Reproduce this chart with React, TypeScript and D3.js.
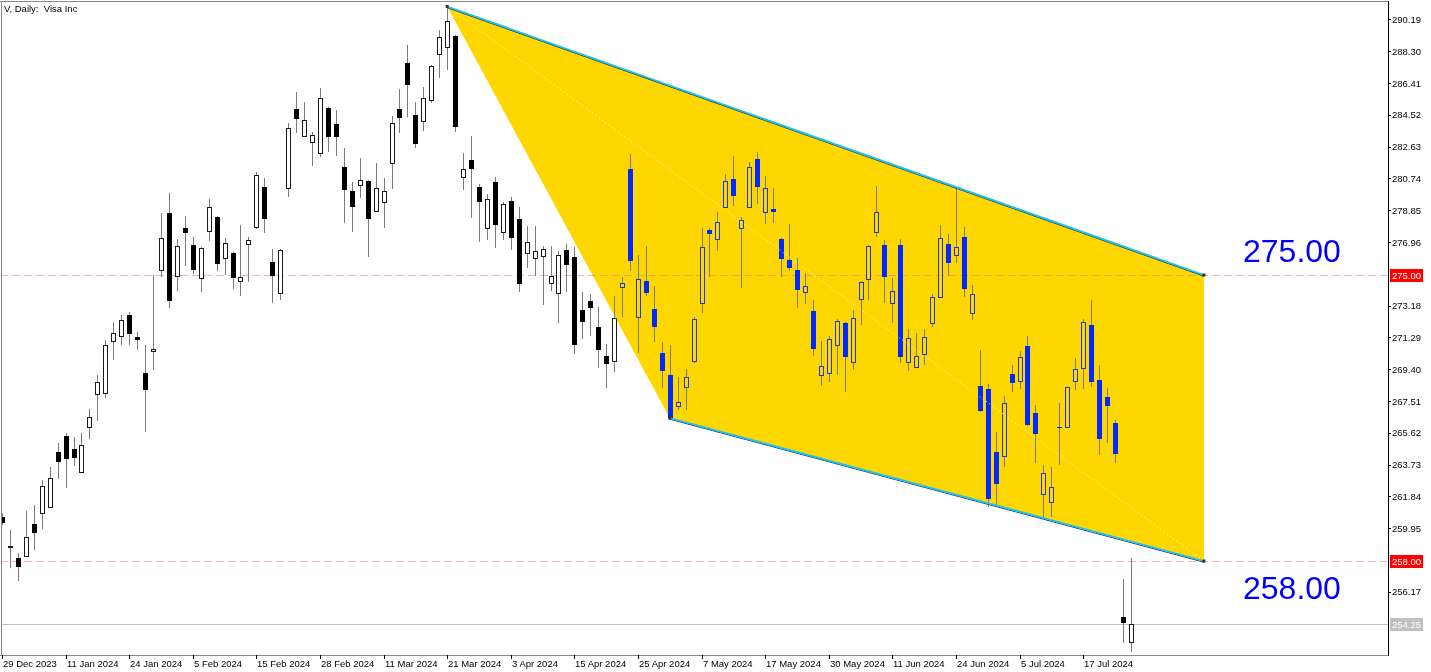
import React from 'react';
import * as d3 from 'd3';

const W = 1431;
const H = 672;

// ---- data (Visa Inc, daily) ----
const dateTickLabels = [
  '29 Dec 2023', '11 Jan 2024', '24 Jan 2024', '5 Feb 2024', '15 Feb 2024', '28 Feb 2024',
  '11 Mar 2024', '21 Mar 2024', '3 Apr 2024', '15 Apr 2024', '25 Apr 2024', '7 May 2024',
  '17 May 2024', '30 May 2024', '11 Jun 2024', '24 Jun 2024', '5 Jul 2024', '17 Jul 2024',
];
const dateTickIndex = [0, 8, 16, 24, 32, 40, 48, 56, 64, 72, 80, 88, 96, 104, 112, 120, 128, 136];

const opens = [
  260.62, 258.83, 258.18, 258.30, 260.20, 260.85, 261.21, 264.48, 265.43, 264.66,
  263.29, 265.97, 267.93, 267.99, 271.08, 271.37, 272.62, 271.31, 269.18, 270.48,
  275.30, 278.69, 274.94, 277.79, 276.78, 274.82, 277.62, 278.45, 276.01, 276.31,
  274.64, 276.84, 277.85, 280.23, 275.77, 273.93, 280.17, 284.87, 283.26, 282.91,
  282.25, 284.92, 283.98, 281.42, 279.99, 280.35, 280.59, 278.80, 279.34, 281.66,
  284.87, 287.60, 284.51, 284.15, 285.40, 288.14, 288.55, 289.21, 280.82, 281.84,
  280.23, 277.79, 280.53, 277.56, 279.40, 278.33, 276.31, 276.01, 276.13, 274.52,
  273.93, 276.49, 276.07, 272.92, 273.45, 271.91, 270.19, 269.89, 274.29, 281.30,
  272.50, 274.64, 272.98, 270.36, 269.06, 267.21, 268.34, 269.89, 273.34, 277.67,
  277.14, 279.04, 280.71, 277.79, 279.04, 281.90, 278.75, 278.92, 277.14, 275.89,
  275.30, 273.99, 272.86, 269.06, 269.18, 270.84, 272.15, 269.83, 273.57, 274.76,
  277.56, 276.78, 273.34, 276.78, 269.83, 269.53, 270.30, 272.15, 273.69, 276.84,
  276.19, 277.26, 272.74, 268.40, 268.22, 264.48, 264.24, 269.12, 268.70, 270.78,
  266.80, 261.98, 261.51, 265.97, 265.97, 268.70, 269.47, 272.03, 268.76, 267.75,
  266.20, 254.67, 253.19,
];
const highs = [
  260.85, 259.84, 258.48, 260.97, 261.33, 262.81, 263.59, 265.01, 265.61, 265.37,
  265.61, 267.04, 269.06, 271.14, 272.21, 272.62, 272.80, 271.61, 270.84, 275.00,
  278.69, 279.87, 277.14, 278.51, 277.26, 276.66, 279.52, 278.51, 277.20, 276.37,
  277.97, 277.26, 281.12, 280.77, 276.55, 276.55, 284.04, 285.88, 285.28, 283.50,
  286.12, 284.98, 284.81, 282.55, 280.53, 281.95, 280.65, 281.66, 280.77, 284.45,
  286.06, 288.67, 285.28, 286.17, 287.48, 289.56, 290.96, 289.27, 282.25, 283.26,
  280.41, 279.81, 280.82, 279.34, 279.64, 279.04, 277.91, 277.91, 276.72, 276.72,
  276.43, 276.84, 276.66, 273.99, 273.87, 273.10, 270.90, 273.75, 274.88, 282.19,
  276.19, 276.72, 274.35, 271.02, 270.84, 268.94, 269.41, 272.50, 277.79, 277.79,
  278.75, 281.00, 282.07, 278.45, 281.72, 282.31, 280.89, 280.17, 277.20, 278.03,
  276.01, 275.12, 273.51, 271.08, 271.37, 272.38, 272.21, 272.92, 274.64, 276.78,
  280.29, 277.08, 274.82, 277.14, 271.79, 271.55, 271.79, 273.87, 277.97, 277.44,
  280.23, 277.85, 274.41, 270.54, 268.52, 265.67, 267.81, 269.65, 270.48, 271.37,
  267.27, 263.71, 263.59, 267.39, 268.40, 270.07, 272.39, 273.51, 269.65, 268.28,
  266.38, 256.93, 258.18,
];
const lows = [
  260.14, 257.58, 256.81, 258.24, 258.65, 259.90, 261.15, 262.87, 262.34, 263.65,
  263.23, 265.25, 266.32, 267.69, 269.95, 270.84, 270.84, 270.54, 265.67, 269.36,
  274.88, 273.04, 274.05, 275.54, 275.06, 273.99, 277.02, 275.24, 275.00, 274.17,
  273.75, 274.58, 277.73, 277.50, 273.34, 273.51, 279.64, 283.44, 283.20, 281.48,
  282.01, 282.31, 282.07, 278.09, 277.56, 279.58, 276.07, 278.74, 277.79, 280.11,
  283.44, 284.39, 282.55, 283.56, 285.22, 286.71, 287.18, 283.50, 280.05, 278.39,
  276.96, 277.08, 276.60, 277.08, 276.49, 273.99, 275.42, 274.94, 273.22, 274.05,
  272.15, 273.99, 270.30, 271.20, 271.37, 269.47, 268.28, 269.23, 272.50, 275.24,
  270.36, 273.75, 271.02, 268.28, 266.50, 266.97, 266.97, 269.77, 272.74, 274.88,
  276.43, 278.98, 279.10, 274.23, 278.98, 279.22, 278.03, 278.09, 274.88, 275.24,
  273.04, 273.28, 270.19, 268.40, 268.64, 269.06, 268.05, 269.35, 272.03, 273.51,
  277.26, 273.34, 272.15, 269.77, 269.29, 269.47, 269.65, 271.91, 273.63, 274.94,
  275.71, 273.69, 272.33, 266.86, 261.21, 261.33, 263.59, 268.05, 268.22, 266.03,
  263.83, 260.56, 260.62, 263.71, 265.91, 268.17, 268.22, 268.34, 264.30, 265.02,
  263.83, 253.13, 252.59,
];
const closes = [
  260.32, 258.89, 257.70, 259.43, 259.72, 262.46, 262.93, 263.94, 264.12, 264.18,
  264.90, 266.56, 268.64, 270.84, 271.55, 272.33, 271.55, 271.20, 268.22, 270.60,
  277.20, 273.51, 276.72, 277.56, 275.36, 276.60, 279.04, 275.71, 276.90, 274.88,
  274.88, 277.08, 280.94, 278.39, 275.00, 276.49, 283.74, 284.33, 284.21, 283.32,
  285.52, 283.26, 283.26, 280.11, 279.10, 280.65, 278.39, 280.17, 279.99, 284.04,
  284.39, 286.35, 282.85, 285.52, 287.42, 289.15, 290.10, 283.86, 281.30, 281.36,
  279.40, 279.52, 278.03, 279.22, 277.26, 274.52, 276.96, 276.43, 276.55, 274.94,
  276.19, 275.65, 270.90, 272.27, 273.10, 270.60, 269.77, 272.45, 274.52, 275.89,
  274.76, 273.99, 271.97, 269.35, 266.56, 267.45, 268.94, 272.39, 276.66, 277.50,
  278.15, 280.59, 279.76, 278.27, 281.42, 280.29, 280.17, 278.80, 276.01, 275.48,
  274.17, 274.35, 270.66, 269.59, 271.20, 272.27, 270.19, 272.45, 274.58, 276.72,
  278.75, 274.94, 274.05, 270.19, 271.26, 270.19, 271.31, 273.69, 277.20, 275.77,
  276.66, 274.23, 273.87, 266.97, 261.74, 262.64, 267.39, 268.64, 270.13, 266.15,
  265.61, 263.23, 262.40, 265.94, 268.34, 269.41, 272.21, 268.70, 265.31, 267.27,
  264.42, 254.38, 254.25,
];

const priceTicks = [
  290.19, 288.30, 286.41, 284.52, 282.63, 280.74, 278.85, 276.96, 273.18, 271.29,
  269.40, 267.51, 265.62, 263.73, 261.84, 259.95, 256.17,
];

// channel anchors: [bar index, price]
const channelTop = [[56, 290.96], [151.2, 275.0]];
const channelBottom = [[84, 266.5], [151.2, 258.0]];
const levels = [275.0, 258.0];
const levelLabelAbove = [true, false];
const lastPrice = 254.25;

const PLOT_R = 1388;
const PLOT_B = 655;

export default function App() {
  const x = d3.scaleLinear().domain([0, 142]).range([2, 1130.8]);
  const y = d3.scaleLinear().domain([258, 275]).range([561, 275]);
  const font = "'Liberation Sans', Arial, sans-serif";

  const poly = [
    channelTop[0], channelTop[1], channelBottom[1], channelBottom[0],
  ].map(([i, p]) => `${x(i)},${y(p)}`).join(' ');

  const candles = opens.map((o, i) => {
    const c = closes[i];
    const cx = Math.round(x(i));
    const yo = y(o), yc = y(c), yh = y(highs[i]), yl = y(lows[i]);
    const top = Math.round(Math.min(yo, yc));
    const bot = Math.round(Math.max(yo, yc));
    const bull = c >= o;
    return (
      <g key={i}>
        <line x1={cx + 0.5} x2={cx + 0.5} y1={Math.round(yh)} y2={Math.round(yl)} stroke="#7a7a7a" strokeWidth={1} />
        {bot - top < 1 ? (
          <line x1={cx - 2} x2={cx + 3} y1={top + 0.5} y2={top + 0.5} stroke="#000" strokeWidth={1} />
        ) : bull ? (
          <rect x={cx - 2 + 0.5} y={top + 0.5} width={4} height={bot - top} fill="#fff" stroke="#1a1a1a" strokeWidth={1} />
        ) : (
          <rect x={cx - 2} y={top} width={5} height={bot - top + 1} fill="#000" />
        )}
      </g>
    );
  });

  const tLine = channelTop.map(([i, p]) => [x(i), y(p)]);
  const bLine = channelBottom.map(([i, p]) => [x(i), y(p)]);

  return (
    <div style={{ position: 'absolute', left: 0, top: 0 }}>
      <svg width={W} height={H} style={{ display: 'block' }} fontFamily={font}>
        <rect x={0} y={0} width={W} height={H} fill="#fff" />
        <defs>
          <clipPath id="plot">
            <rect x={1} y={1} width={PLOT_R - 1} height={PLOT_B - 1} />
          </clipPath>
        </defs>
        <g clipPath="url(#plot)" shapeRendering="crispEdges">
          {levels.map((lv) => (
            <line key={lv} x1={0} x2={PLOT_R} y1={Math.round(y(lv)) + 0.5} y2={Math.round(y(lv)) + 0.5}
              stroke="#f2b2b2" strokeWidth={1} strokeDasharray="8,4" />
          ))}
          <line x1={0} x2={PLOT_R} y1={Math.round(y(lastPrice)) + 0.5} y2={Math.round(y(lastPrice)) + 0.5} stroke="#c0c0c0" strokeWidth={1} />
          {candles}
        </g>
        {/* channel fill with xor-like blending */}
        <polygon points={poly} fill="rgb(0,40,255)" style={{ mixBlendMode: 'exclusion' }} />
        <line x1={tLine[0][0]} y1={tLine[0][1]} x2={bLine[1][0]} y2={bLine[1][1]} stroke="#fff" strokeWidth={1} strokeDasharray="1,3" opacity={0.9} />
        {[tLine, bLine].map((l, k) => (
          <g key={k}>
            <line x1={l[0][0]} y1={l[0][1] + 1.2} x2={l[1][0]} y2={l[1][1] + 1.2} stroke="#1b3f7a" strokeWidth={1} />
            <line x1={l[0][0]} y1={l[0][1]} x2={l[1][0]} y2={l[1][1]} stroke="#19c3ef" strokeWidth={1.8} />
          </g>
        ))}
        {[tLine[0], tLine[1], bLine[0], bLine[1]].map((p, k) => (
          <rect key={k} x={p[0] - 1.5} y={p[1] - 1.5} width={3} height={3} fill="#333" />
        ))}

        {levels.map((lv, k) => (
          <text key={lv} x={1243} y={levelLabelAbove[k] ? y(lv) - 13 : y(lv) + 38} fontSize={32} fill="#0000ff">{lv.toFixed(2)}</text>
        ))}

        <g shapeRendering="crispEdges">
          <line x1={0} x2={PLOT_R} y1={1.5} y2={1.5} stroke="#8a8a8a" />
          <line x1={1.5} x2={1.5} y1={1} y2={PLOT_B} stroke="#8a8a8a" />
          <line x1={0} x2={PLOT_R} y1={PLOT_B + 0.5} y2={PLOT_B + 0.5} stroke="#8a8a8a" />
          <line x1={PLOT_R + 0.5} x2={PLOT_R + 0.5} y1={1} y2={PLOT_B + 1} stroke="#000" />
        </g>

        <text x={4} y={12} fontSize={9.5} fill="#000" style={{ whiteSpace: 'pre' }}>{'V, Daily:  Visa Inc'}</text>

        <g shapeRendering="crispEdges">
          {priceTicks.map((p) => (
            <g key={p}>
              <line x1={PLOT_R} x2={PLOT_R + 3} y1={Math.round(y(p)) + 0.5} y2={Math.round(y(p)) + 0.5} stroke="#000" />
              <text x={PLOT_R + 4} y={y(p) + 3.5} fontSize={9.5} fill="#000">{p.toFixed(2)}</text>
            </g>
          ))}
          {levels.map((lv) => (
            <g key={lv}>
              <rect x={PLOT_R + 2} y={Math.round(y(lv)) - 6} width={33} height={13} fill="#ff0000" />
              <text x={PLOT_R + 4} y={y(lv) + 3.5} fontSize={9.5} fill="#fff">{lv.toFixed(2)}</text>
            </g>
          ))}
          <rect x={PLOT_R + 2} y={Math.round(y(lastPrice)) - 6} width={33} height={13} fill="#c0c0c0" />
          <text x={PLOT_R + 4} y={y(lastPrice) + 3.5} fontSize={9.5} fill="#fff">{lastPrice.toFixed(2)}</text>
        </g>

        <g shapeRendering="crispEdges">
          {dateTickIndex.map((idx, k) => {
            const tx = Math.round(x(idx));
            return (
              <g key={idx}>
                <line x1={tx + 0.5} x2={tx + 0.5} y1={PLOT_B} y2={PLOT_B + 4} stroke="#000" />
                <text x={tx + 1} y={667} fontSize={9.5} fill="#000">{dateTickLabels[k]}</text>
              </g>
            );
          })}
        </g>
      </svg>
    </div>
  );
}
